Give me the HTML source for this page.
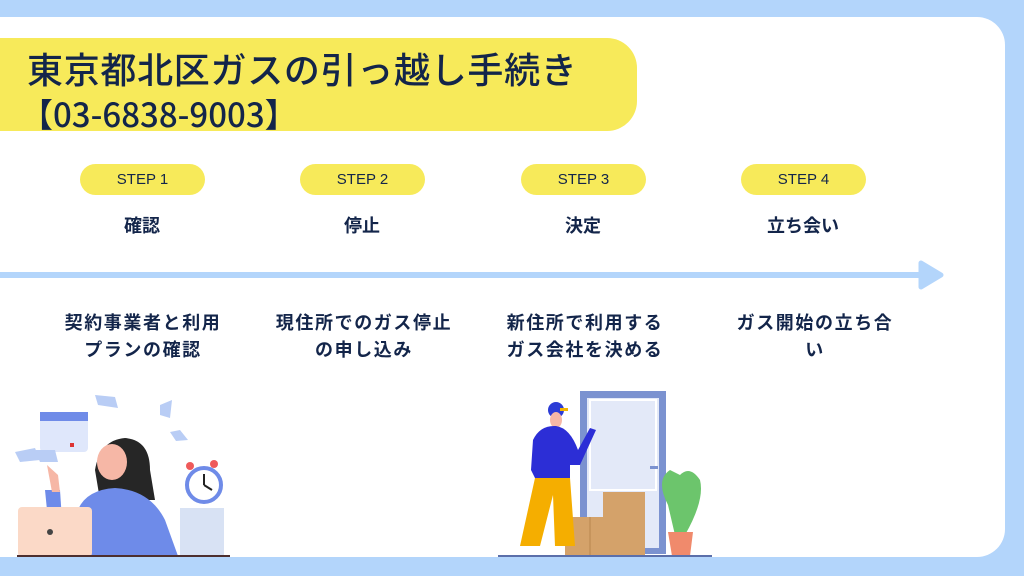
<!DOCTYPE html>
<html><head><meta charset="utf-8"><style>
html,body{margin:0;padding:0;}
body{width:1024px;height:576px;background:#b3d5fb;position:relative;overflow:hidden;font-family:"Liberation Sans","Noto Sans CJK JP",sans-serif;color:#13254a;}
.panel{position:absolute;left:-30px;top:17px;width:1035px;height:540px;background:#fff;border-radius:28px;}
.title{position:absolute;left:-20px;top:38px;width:657px;height:93px;background:#f7ea5a;border-radius:0 30px 30px 0;}
.t1{position:absolute;left:27px;top:45px;font-size:36px;font-family:"Noto Sans CJK JP",sans-serif;font-weight:500;letter-spacing:0.7px;white-space:nowrap;line-height:46px;}
.t2{position:absolute;left:20px;top:92px;font-size:33px;font-family:"Noto Sans CJK JP",sans-serif;font-weight:500;white-space:nowrap;line-height:42px;}
.pill{position:absolute;top:164px;width:125px;height:31px;background:#f7ea5a;border-radius:16px;text-align:center;line-height:31px;font-size:15px;}
.lab{position:absolute;top:212px;width:200px;text-align:center;font-size:18px;font-weight:bold;font-family:"Noto Sans CJK JP",sans-serif;line-height:26px;}
.desc{position:absolute;top:309px;width:240px;text-align:center;font-size:18px;letter-spacing:1.6px;font-weight:bold;font-family:"Noto Sans CJK JP",sans-serif;line-height:27px;}
</style></head><body>
<div class="panel"></div>
<div class="title"></div>
<div class="t1">東京都北区ガスの引っ越し手続き</div>
<div class="t2">【03-6838-9003】</div>
<div class="pill" style="left:80px">STEP 1</div>
<div class="pill" style="left:300px">STEP 2</div>
<div class="pill" style="left:521px">STEP 3</div>
<div class="pill" style="left:741px">STEP 4</div>
<div class="lab" style="left:42px">確認</div>
<div class="lab" style="left:262px">停止</div>
<div class="lab" style="left:483px">決定</div>
<div class="lab" style="left:703px">立ち会い</div>
<div class="desc" style="left:23px">契約事業者と利用<br>プランの確認</div>
<div class="desc" style="left:244px">現住所でのガス停止<br>の申し込み</div>
<div class="desc" style="left:465px">新住所で利用する<br>ガス会社を決める</div>
<div class="desc" style="left:695px">ガス開始の立ち合<br>い</div>
<svg width="1024" height="576" style="position:absolute;left:0;top:0">
<line x1="0" y1="275" x2="925" y2="275" stroke="#b3d5fb" stroke-width="6"/>
<path d="M921 263 L941 275 L921 287 Z" fill="#b3d5fb" stroke="#b3d5fb" stroke-width="5" stroke-linejoin="round"/>
<g>
<rect x="40" y="412" width="48" height="40" rx="4" fill="#dfe7fb"/>
<rect x="40" y="412" width="48" height="9" fill="#6f8be8"/>
<rect x="70" y="443" width="4" height="4" fill="#d33"/>
<path d="M35 450 L55 450 L58 462 L40 462Z M15 452 L35 448 L40 460 L20 462Z" fill="#b9cdf5"/>
<path d="M95 395 L115 397 L118 408 L98 405Z M160 405 L172 400 L170 418 L160 415Z M170 432 L180 430 L188 440 L176 441Z" fill="#b9cdf5"/>
<path d="M95 470 Q100 440 125 438 Q150 440 150 470 L155 500 L100 500Z" fill="#262626"/>
<ellipse cx="112" cy="462" rx="15" ry="18" fill="#f6b7a6"/>
<path d="M75 520 Q80 490 115 488 Q150 490 165 520 L178 556 L75 556Z" fill="#6e8be9"/>
<path d="M45 490 L60 490 L62 520 L48 520Z" fill="#6e8be9"/>
<path d="M47 465 L52 492 L60 492 L58 475Z" fill="#f6b7a6"/>
<rect x="18" y="507" width="74" height="50" rx="4" fill="#fbd9c7"/>
<circle cx="50" cy="532" r="3" fill="#444"/>
<circle cx="204" cy="485" r="17" fill="#fff" stroke="#6f8be8" stroke-width="4"/>
<path d="M204 485 L204 474 M204 485 L212 490" stroke="#222" stroke-width="2"/>
<circle cx="190" cy="466" r="4" fill="#ef5a5a"/><circle cx="214" cy="464" r="4" fill="#ef5a5a"/>
<rect x="180" y="508" width="44" height="48" fill="#d8e2f4"/>
<line x1="17" y1="556" x2="230" y2="556" stroke="#4d2f2f" stroke-width="2"/>
</g>
<g>
<rect x="580" y="391" width="86" height="163" fill="#7b92d0"/>
<rect x="587" y="398" width="72" height="150" fill="#e3e9f8"/>
<rect x="590" y="400" width="66" height="90" fill="none" stroke="#fff" stroke-width="2"/>
<rect x="650" y="466" width="8" height="3" fill="#7b92d0"/>
<rect x="565" y="517" width="80" height="39" fill="#d4a26a"/>
<rect x="603" y="492" width="42" height="26" fill="#d4a26a"/>
<line x1="590" y1="517" x2="590" y2="556" stroke="#b9854f"/>
<circle cx="556" cy="410" r="8" fill="#2c3cd6"/>
<rect x="560" y="408" width="8" height="3" fill="#f3b500"/>
<ellipse cx="556" cy="420" rx="6" ry="8" fill="#f6b7a6"/>
<path d="M533 440 Q540 425 556 426 Q570 428 578 450 L590 428 L596 430 L580 465 L570 465 L570 478 L535 478 L531 470Z" fill="#2c2ed6"/>
<path d="M535 478 L570 478 L575 546 L555 546 L553 495 L540 546 L520 546Z" fill="#f5ae00"/>
<path d="M670 470 Q655 480 668 505 L675 535 L685 535 Q705 500 700 480 Q690 465 680 475Z" fill="#6cc56c"/>
<path d="M668 532 L693 532 L690 556 L672 556Z" fill="#f08a6c"/>
<line x1="498" y1="556" x2="712" y2="556" stroke="#5b6faa" stroke-width="2"/>
</g>
</svg>
</body></html>
